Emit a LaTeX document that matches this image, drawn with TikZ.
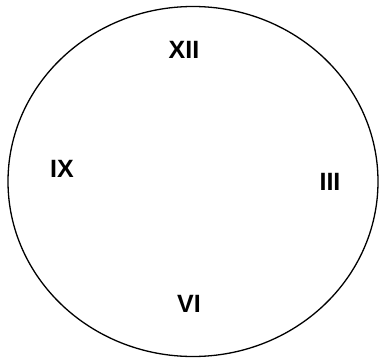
\documentclass[tikz,border=0pt]{standalone}
\usepackage{fontspec}
\setmainfont{Liberation Sans}
\usetikzlibrary{shapes.geometric}

\begin{document}
\begin{tikzpicture}[
    x=1pt, y=-1pt,
    face/.style={draw, line width=1.3pt},
    numeral/.style={font=\fontsize{25}{25}\selectfont\bfseries, inner sep=0pt, anchor=center}
]
\useasboundingbox (0,0) rectangle (379,358);

% clock face
\draw[face] (193,181.5) ellipse [x radius=185, y radius=175];

% hour marks
\node[numeral] (twelve) at (184,50) {XII};
\node[numeral] (three) at (330,182) {III};
\node[numeral] (six) at (189,304) {VI};
\node[numeral] (nine) at (62,169) {IX};

\end{tikzpicture}
\end{document}
